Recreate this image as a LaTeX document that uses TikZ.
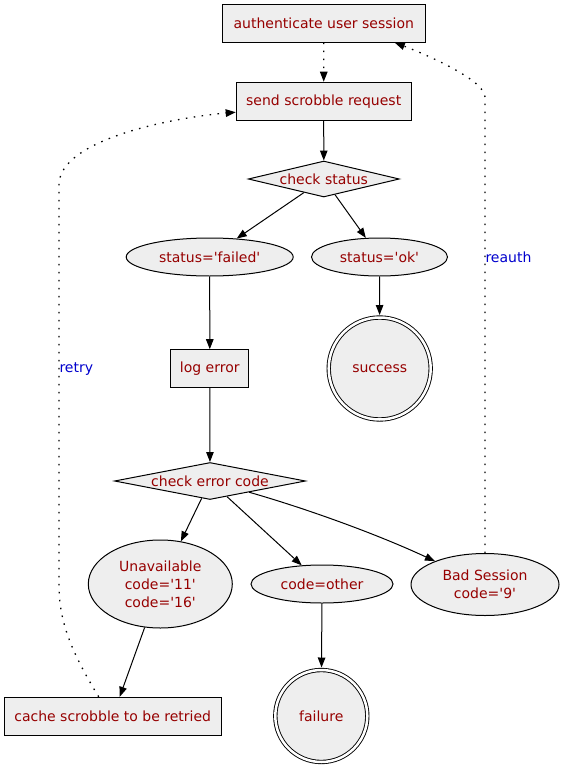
\documentclass[tikz,border=0pt]{standalone}
\usepackage{fontspec}
\setmainfont{DejaVu Sans}
\usepackage{tikz}
\usetikzlibrary{arrows.meta}
\usetikzlibrary{shapes.geometric}
\definecolor{nodefill}{RGB}{238,238,238}
\definecolor{nodetext}{RGB}{150,0,0}
\definecolor{edgetext}{RGB}{0,0,205}
\newcommand{\sq}{\textquotesingle}

\begin{document}
\begin{tikzpicture}[x=1pt, y=-1pt, >={Triangle[length=10pt,width=7.5pt]}, line width=1pt,
		every node/.style={font=\fontsize{14}{18}\selectfont, inner sep=0pt},
		box/.style={draw, fill=nodefill, text=nodetext, rectangle, minimum height=38pt},
		test/.style={draw, fill=nodefill, text=nodetext, diamond},
		cond/.style={draw, fill=nodefill, text=nodetext, ellipse},
		final/.style={draw, fill=nodefill, text=nodetext, circle, double=white, double distance=2.5pt,
			line width=0.9pt, outer sep=2.5pt},
		lbl/.style={text=edgetext, anchor=west},
		dots/.style={line width=1.3pt, dash pattern=on 1.5pt off 6.5pt}]
		\useasboundingbox (0,0) rectangle (563,768);
		
		\node[box, minimum width=203pt] (auth) at (323.8,23.2) {authenticate user session};
		\node[box, minimum width=175pt] (send) at (323.7,101.2) {send scrobble request};
		\node[test, aspect=4.2, minimum width=151pt, minimum height=36pt] (status) at (323.8,179) {check status};
		\node[cond, minimum width=167pt, minimum height=38pt] (failed) at (209.7,257) {status=\sq failed\sq};
		\node[cond, minimum width=136pt, minimum height=38pt] (ok) at (379.5,257) {status=\sq ok\sq};
		\node[final, minimum size=102pt] (success) at (379.7,368.5) {success};
		\node[box, minimum width=78pt] (log) at (209.8,368.7) {log error};
		\node[test, aspect=5.2, minimum width=191pt, minimum height=37pt] (errcode) at (210,481) {check error code};
		\node[cond, align=center, minimum width=144pt, minimum height=88pt] (unavail) at (160.3,584)
			{Unavailable\\code=\sq11\sq\\code=\sq16\sq};
		\node[cond, minimum width=142pt, minimum height=38pt] (other) at (322,584) {code=other};
		\node[cond, align=center, minimum width=148pt, minimum height=62pt] (badsess) at (485,584.5)
			{Bad Session\\code=\sq9\sq};
		\node[box, minimum width=217pt] (cache) at (112.7,716.3) {cache scrobble to be retried};
		\node[final, minimum size=92pt] (failure) at (321.3,716) {failure};
		
		\draw[->, dots] (auth) -- (send); \draw[->] (send) -- (status);
		\draw[->] (status) -- (failed); \draw[->] (status) -- (ok);
		\draw[->] (ok) -- (success); \draw[->] (failed) -- (log);
		\draw[->] (log) -- (errcode);
		\draw[->] (errcode) -- (unavail); \draw[->] (errcode) -- (other);
		\draw[->] (errcode) to[out=-16, in=155, looseness=0.8] (badsess);
		\draw[->] (unavail) -- (cache); \draw[->] (other) -- (failure);
		
		\draw[->, dots] ([xshift=-14pt]cache.north) .. controls (70,650) and (59,620) .. (59,585) -- (59,185)
			.. controls (59,140) and (170,118) .. ([yshift=-11pt]send.west);
		\draw[->, dots] (badsess.north) -- (485,97) .. controls (485,80) and (425,54) .. ([xshift=71pt]auth.south);
		
		\node[lbl] (retry) at (59,369) {retry}; \node[lbl] (reauth) at (485,257) {reauth};
	\end{tikzpicture}
\end{document}
